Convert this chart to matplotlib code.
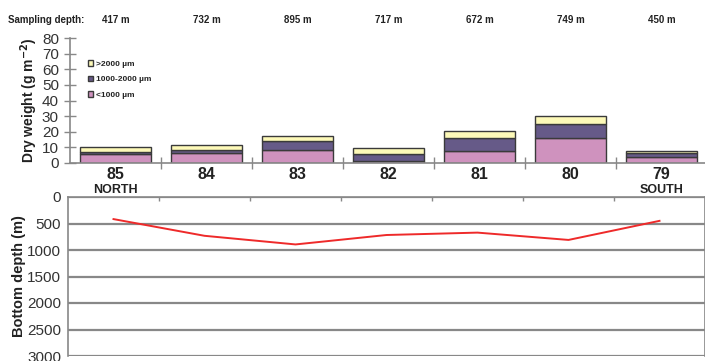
import matplotlib
matplotlib.use("Agg")
import matplotlib.pyplot as plt
import numpy as np

plt.rcParams['font.family'] = ['Liberation Sans', 'DejaVu Sans']

stations = ["85", "84", "83", "82", "81", "80", "79"]
sampling_depth = [417, 732, 895, 717, 672, 749, 450]
bottom_depth = [417, 732, 895, 717, 672, 810, 450]
small = [5.7, 6.4, 8.3, 1.5, 7.6, 15.7, 4.0]     # <1000 µm
medium = [1.5, 1.7, 5.9, 4.2, 8.7, 9.1, 2.2]     # 1000-2000 µm
large = [2.8, 3.4, 3.2, 4.1, 3.9, 5.1, 1.6]      # >2000 µm

c_small = "#cf92be"
c_medium = "#665a88"
c_large = "#fdf9b8"
edge = "#3a3a3a"
grey = "#888888"
ink = "#222222"

W, H = 705, 361
fig = plt.figure(figsize=(W / 100, H / 100), dpi=100)

def box(l, t, r, b):
    return [l / W, 1 - b / H, (r - l) / W, (b - t) / H]

x = np.arange(len(stations))

# ---- upper panel: stacked dry weight ----
ax = fig.add_axes(box(70, 38, 707, 163))
bw = 0.78
b1 = ax.bar(x, small, bw, color=c_small, edgecolor=edge, linewidth=1.0, label="<1000 µm")
b2 = ax.bar(x, medium, bw, bottom=small, color=c_medium, edgecolor=edge, linewidth=1.0,
            label="1000-2000 µm")
b3 = ax.bar(x, large, bw, bottom=np.add(small, medium), color=c_large, edgecolor=edge,
            linewidth=1.0, label=">2000 µm")
ax.set_xlim(-0.5, len(stations) - 0.5)
ax.set_ylim(0, 80)
ax.set_yticks(range(0, 81, 10))
ax.tick_params(axis="y", labelsize=11, labelcolor="#333333", color=grey, direction="inout",
               length=8, width=1, pad=4)
for s in ["top", "right"]:
    ax.spines[s].set_visible(False)
for s in ["left", "bottom"]:
    ax.spines[s].set_color(grey)
    ax.spines[s].set_linewidth(1.2)
ax.set_xticks(x)
ax.set_xticklabels(stations, fontsize=11.5, fontweight="bold", color=ink)
ax.tick_params(axis="x", which="major", length=0, pad=3)
ax.set_xticks(np.arange(0.5, len(stations) - 0.5, 1), minor=True)
ax.tick_params(axis="x", which="minor", direction="inout", length=8, width=1, color=grey)
ax.set_ylabel("Dry weight (g m$^{\\mathbf{-2}}$)", fontsize=10, fontweight="bold",
              color=ink, labelpad=1)
for i, lab in [(0, "NORTH"), (len(stations) - 1, "SOUTH")]:
    ax.text(i, -0.215, lab, transform=ax.get_xaxis_transform(), ha="center", va="center",
            fontsize=9, fontweight="bold", color=ink)
leg = ax.legend(handles=[b3, b2, b1], loc="upper left", bbox_to_anchor=(0.022, 0.855),
                frameon=False, handlelength=0.6, handleheight=0.6, handletextpad=0.3,
                labelspacing=0.95, prop={"size": 6, "weight": "bold"}, borderpad=0)
for t in leg.get_texts():
    t.set_color(ink)

# sampling depth header
fig.text(8 / W, 1 - 20 / H, "Sampling depth:", fontsize=7, fontweight="bold",
         ha="left", va="center", color=ink)
for i, d in enumerate(sampling_depth):
    ax.text(i, 1 + (38 - 20) / 125, f"{d} m", transform=ax.get_xaxis_transform(),
            ha="center", va="center", fontsize=7, fontweight="bold", color=ink)

# ---- lower panel: bottom depth profile ----
ax2 = fig.add_axes(box(68, 197, 705, 356))
ax2.set_xlim(-0.5, len(stations) - 0.5)
ax2.set_ylim(3000, 0)
ax2.set_yticks(range(0, 3001, 500))
ax2.yaxis.grid(True, color=grey, linewidth=1.6)
ax2.set_axisbelow(True)
ax2.plot(x, bottom_depth, color="#ee2a2a", linewidth=1.4)
ax2.xaxis.tick_top()
ax2.set_xticks(np.arange(0.5, len(stations) - 0.5, 1))
ax2.set_xticklabels([])
ax2.tick_params(axis="x", direction="in", length=3, width=1, color=grey)
ax2.tick_params(axis="y", labelsize=11, labelcolor="#333333", length=0, pad=5)
for s in ax2.spines.values():
    s.set_color(grey)
    s.set_linewidth(1.2)
ax2.spines["bottom"].set_visible(False)
ax2.set_ylabel("Bottom depth (m)", fontsize=10.5, fontweight="bold", color=ink,
               labelpad=1)

fig.savefig("out.png", dpi=100, facecolor="white")
